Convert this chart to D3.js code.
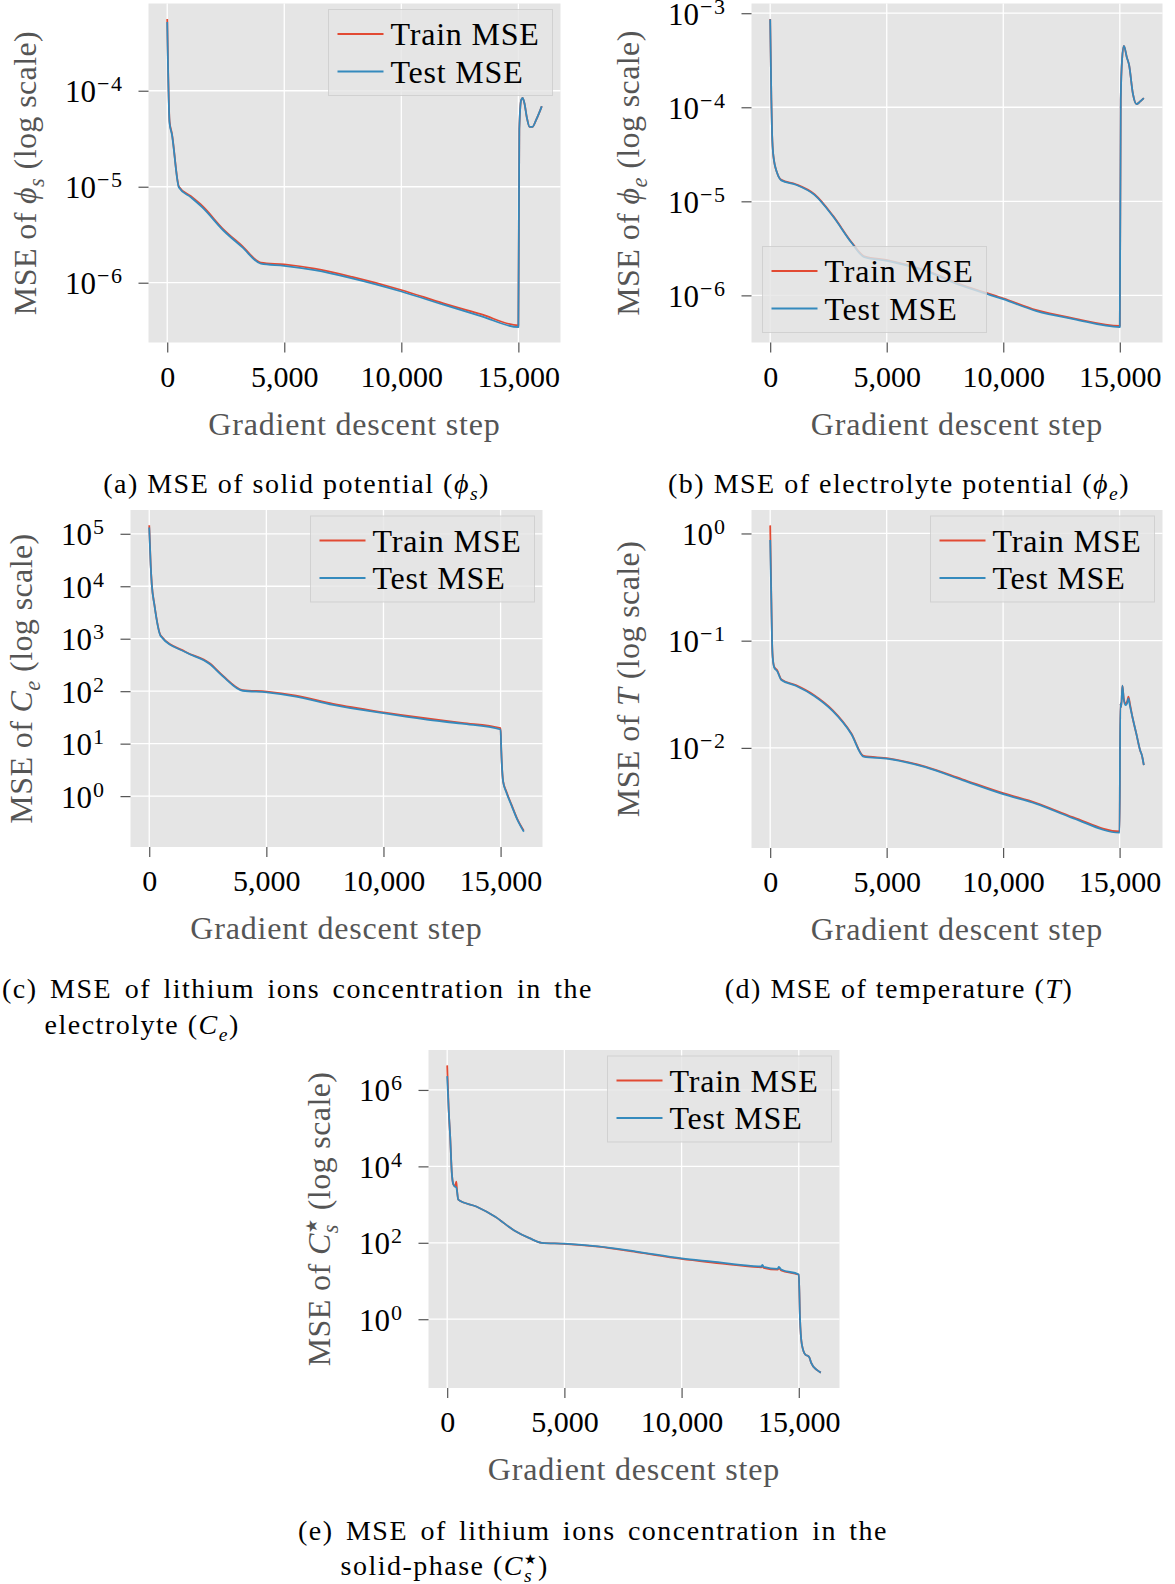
<!DOCTYPE html>
<html>
<head>
<meta charset="utf-8">
<script src="https://cdn.jsdelivr.net/npm/d3@7"></script>
<style>
  body { margin: 0; background: #fff; }
  svg { display: block; }
  svg text { font-family: "Liberation Serif", "DejaVu Serif", serif; }
</style>
</head>
<body>
<svg id="fig" width="1175" height="1584"></svg>
<script>
// ---- data ----
const seriesNames = ["Train MSE", "Test MSE"];
const seriesColors = ["#E24A33", "#348ABD"];
const xTickValues = [0, 5000, 10000, 15000];

// (a) solid potential
const phiSSteps = [0, 100, 200, 500, 1000, 1500, 2400, 3200, 4000, 5000, 6300, 7900, 10000, 11800, 13400, 15000, 15040, 15120, 15180, 15260, 15360, 15480, 15600, 15750, 15880, 16000];
const phiSTrain = [5.6e-4, 4.8e-5, 3.6e-5, 1.0e-5, 8.0e-6, 6.3e-6, 3.6e-6, 2.42e-6, 1.62e-6, 1.55e-6, 1.40e-6, 1.15e-6, 8.4e-7, 6.1e-7, 4.7e-7, 3.6e-7, 4.0e-5, 8.0e-5, 8.4e-5, 7.4e-5, 5.3e-5, 4.2e-5, 4.2e-5, 4.9e-5, 5.8e-5, 6.9e-5];
const phiSTest  = [5.2e-4, 4.6e-5, 3.5e-5, 9.8e-6, 7.8e-6, 6.1e-6, 3.5e-6, 2.35e-6, 1.58e-6, 1.50e-6, 1.35e-6, 1.11e-6, 8.1e-7, 5.9e-7, 4.5e-7, 3.45e-7, 4.0e-5, 8.0e-5, 8.4e-5, 7.4e-5, 5.3e-5, 4.2e-5, 4.2e-5, 4.9e-5, 5.8e-5, 6.9e-5];
const phiSExps  = [-4, -5, -6];

// (b) electrolyte potential
const phiESteps = [0, 50, 80, 140, 300, 480, 1100, 1900, 2700, 3500, 4040, 5070, 6660, 8250, 10000, 11430, 13020, 15000, 15040, 15100, 15175, 15300, 15400, 15560, 15715, 15870, 16030];
const phiETrain = [8.7e-4, 1.2e-4, 5.4e-5, 3.0e-5, 2.0e-5, 1.69e-5, 1.52e-5, 1.19e-5, 7.0e-6, 3.65e-6, 2.6e-6, 2.36e-6, 1.85e-6, 1.29e-6, 9.3e-7, 6.95e-7, 5.7e-7, 4.75e-7, 1.2e-4, 3.3e-4, 4.5e-4, 3.4e-4, 2.8e-4, 1.4e-4, 1.08e-4, 1.15e-4, 1.25e-4];
const phiETest  = [8.6e-4, 1.2e-4, 5.3e-5, 3.0e-5, 2.0e-5, 1.67e-5, 1.50e-5, 1.17e-5, 6.9e-6, 3.6e-6, 2.55e-6, 2.32e-6, 1.82e-6, 1.26e-6, 9.1e-7, 6.8e-7, 5.6e-7, 4.6e-7, 1.2e-4, 3.3e-4, 4.5e-4, 3.4e-4, 2.8e-4, 1.4e-4, 1.08e-4, 1.15e-4, 1.25e-4];
const phiEExps  = [-3, -4, -5, -6];

// (c) electrolyte concentration
const ceSteps = [0, 60, 110, 220, 490, 1560, 2580, 3130, 3990, 5020, 6270, 7850, 10000, 11780, 13350, 15000, 15030, 15110, 15240, 15470, 15710, 15990];
const ceTrain = [1.45e5, 2.7e4, 1.1e4, 4.5e3, 1.15e3, 560, 340, 200, 105, 98, 82, 57, 39.5, 30.5, 25, 19.8, 7.4, 1.9, 1.25, 0.68, 0.37, 0.22];
const ceTest  = [1.32e5, 2.6e4, 1.07e4, 4.4e3, 1.12e3, 550, 330, 195, 102, 95, 79, 55, 38, 29, 24, 18.6, 7.2, 1.86, 1.2, 0.66, 0.36, 0.21];
const ceExps  = [5, 4, 3, 2, 1, 0];

// (d) temperature
const tSteps = [0, 50, 80, 110, 175, 300, 480, 1100, 1890, 2690, 3480, 4010, 5070, 6660, 8250, 10000, 11430, 13020, 15000, 15030, 15070, 15120, 15180, 15260, 15320, 15380, 15440, 15560, 15720, 15880, 15960, 16040];
const tTrain = [1.19, 0.24, 0.1, 0.07, 0.057, 0.053, 0.0435, 0.0385, 0.031, 0.0224, 0.0137, 0.0084, 0.0080, 0.0067, 0.0051, 0.00378, 0.00306, 0.00225, 0.00166, 0.026, 0.024, 0.038, 0.029, 0.026, 0.027, 0.03, 0.026, 0.019, 0.0135, 0.0095, 0.0085, 0.0069];
const tTest  = [0.87, 0.23, 0.099, 0.069, 0.056, 0.052, 0.043, 0.038, 0.0305, 0.022, 0.0135, 0.0083, 0.0079, 0.0066, 0.0050, 0.0037, 0.0030, 0.0022, 0.00162, 0.026, 0.024, 0.038, 0.028, 0.025, 0.026, 0.029, 0.025, 0.019, 0.0135, 0.0095, 0.0085, 0.0069];
const tExps  = [0, -1, -2];

// (e) solid-phase concentration
const csSteps = [0, 65, 130, 195, 260, 330, 390, 420, 472, 1240, 2050, 2860, 3510, 4030, 5000, 6440, 8070, 10000, 11320, 12950, 13400, 13450, 13500, 14100, 14150, 14250, 15000, 15050, 15130, 15290, 15360, 15450, 15530, 15770, 15940];
const csTrain = [4.4e6, 3.0e5, 5.7e4, 7.2e3, 3.4e3, 3.0e3, 4.0e3, 2.4e3, 1.35e3, 890, 480, 210, 132, 100, 94, 79, 57, 38, 30.5, 23.8, 22.8, 24.5, 22.2, 19.8, 22, 19, 14.6, 1.12, 0.22, 0.117, 0.112, 0.1, 0.072, 0.047, 0.04];
const csTest  = [2.3e6, 2.95e5, 5.6e4, 7.1e3, 3.4e3, 2.95e3, 2.8e3, 2.25e3, 1.35e3, 890, 480, 210, 132, 100, 95, 81, 59, 39, 32, 25, 24, 26.3, 23.4, 20.9, 23.4, 20, 14.8, 1.12, 0.22, 0.117, 0.112, 0.1, 0.072, 0.047, 0.04];
const csExps  = [6, 4, 2, 0];

// ---- layout ----
const TICK_FONT = 31, LABEL_FONT = 32, CAP_FONT = 28;

const starPart = { t: "\u2605", s: "sup", sz: 0.5 };

const panels = [
  { steps: phiSSteps, train: phiSTrain, test: phiSTest, exps: phiSExps,
    left: 148.5, top: 3.5, width: 412, height: 339, legend: "ur",
    ylabel: [{ t: "MSE of " }, { t: "ϕ", i: 1 }, { t: "s", i: 1, s: "sub" }, { t: " (log scale)" }],
    caption: { center: 296.5, y: 493, parts: [{ t: "(a) MSE of solid potential (" }, { t: "ϕ", i: 1 }, { t: "s", i: 1, s: "sub" }, { t: ")" }] } },
  { steps: phiESteps, train: phiETrain, test: phiETest, exps: phiEExps,
    left: 751.5, top: 3.5, width: 411, height: 339, legend: "ll",
    ylabel: [{ t: "MSE of " }, { t: "ϕ", i: 1 }, { t: "e", i: 1, s: "sub" }, { t: " (log scale)" }],
    caption: { center: 899, y: 493, parts: [{ t: "(b) MSE of electrolyte potential (" }, { t: "ϕ", i: 1 }, { t: "e", i: 1, s: "sub" }, { t: ")" }] } },
  { steps: ceSteps, train: ceTrain, test: ceTest, exps: ceExps,
    left: 130.5, top: 510, width: 412, height: 337, legend: "ur",
    ylabel: [{ t: "MSE of " }, { t: "C", i: 1 }, { t: "e", i: 1, s: "sub" }, { t: " (log scale)" }],
    caption: { justify: [2, 593], y: 998, line1: "(c) MSE of lithium ions concentration in the",
               x2: 44.5, y2: 1034, parts: [{ t: "electrolyte (" }, { t: "C", i: 1 }, { t: "e", i: 1, s: "sub" }, { t: ")" }] } },
  { steps: tSteps, train: tTrain, test: tTest, exps: tExps,
    left: 751.5, top: 510, width: 411, height: 338, legend: "ur",
    ylabel: [{ t: "MSE of " }, { t: "T", i: 1 }, { t: " (log scale)" }],
    caption: { center: 899, y: 998, parts: [{ t: "(d) MSE of temperature (" }, { t: "T", i: 1 }, { t: ")" }] } },
  { steps: csSteps, train: csTrain, test: csTest, exps: csExps,
    left: 428.5, top: 1050, width: 411, height: 338, legend: "ur",
    ylabel: [{ t: "MSE of " }, { t: "C", i: 1 }, starPart, { t: "s", i: 1, s: "sub", back: 1 }, { t: " (log scale)" }],
    caption: { justify: [298, 888], y: 1540, line1: "(e) MSE of lithium ions concentration in the",
               x2: 340.5, y2: 1575, parts: [{ t: "solid-phase (" }, { t: "C", i: 1 }, starPart, { t: "s", i: 1, s: "sub", back: 1 }, { t: ")" }] } }
];

const svg = d3.select("#fig");

// text with italic letters, sub- and superscripts (a "back" part sits under the previous one)
function rich(text, parts, size) {
  let shift = 0, prev = null, carry = 0;
  parts.forEach(pt => {
    const target = pt.s === "sub" ? size * 0.24 : pt.s === "sup" ? -size * 0.4 : 0;
    const ts = text.append("tspan").text(pt.t)
      .attr("font-size", size * (pt.sz || (pt.s ? 0.7 : 1)))
      .attr("font-style", pt.i ? "italic" : null);
    if (pt.sz) ts.attr("font-family", "DejaVu Sans");
    if (target !== shift) ts.attr("dy", target - shift);
    if (pt.back && prev) {
      const pw = prev.node().getComputedTextLength();
      ts.attr("dx", -pw);
      carry = Math.max(0, pw - ts.node().getComputedTextLength());
    } else if (carry) {
      ts.attr("dx", carry);
      carry = 0;
    }
    shift = target;
    prev = ts;
  });
  return text;
}

function drawPanel(p, idx) {
  const g = svg.append("g").attr("transform", `translate(${p.left},${p.top})`);

  const xMax = d3.max(p.steps);
  const x = d3.scaleLinear()
    .domain([-xMax * 0.05, xMax * 1.05])
    .range([0, p.width]);

  const [lo, hi] = d3.extent(p.train.concat(p.test)).map(Math.log10);
  const pad = (hi - lo) * 0.05;
  const y = d3.scaleLog()
    .domain([10 ** (lo - pad), 10 ** (hi + pad)])
    .range([p.height, 0]);
  const yTicks = p.exps.map(e => 10 ** e);

  g.append("rect").attr("width", p.width).attr("height", p.height).attr("fill", "#E5E5E5");

  g.append("g").selectAll("line").data(xTickValues).join("line")
    .attr("x1", d => x(d)).attr("x2", d => x(d))
    .attr("y1", 0).attr("y2", p.height)
    .attr("stroke", "#fff").attr("stroke-width", 1.3);
  g.append("g").selectAll("line").data(yTicks).join("line")
    .attr("x1", 0).attr("x2", p.width)
    .attr("y1", d => y(d)).attr("y2", d => y(d))
    .attr("stroke", "#fff").attr("stroke-width", 1.3);

  const clipId = "clip" + idx;
  g.append("clipPath").attr("id", clipId)
    .append("rect").attr("width", p.width).attr("height", p.height);

  [p.train, p.test].forEach((vals, k) => {
    const line = d3.line()
      .curve(d3.curveMonotoneX)
      .x((d, i) => x(p.steps[i]))
      .y(d => y(d));
    g.append("path")
      .datum(vals)
      .attr("clip-path", `url(#${clipId})`)
      .attr("fill", "none")
      .attr("stroke", seriesColors[k])
      .attr("stroke-width", 1.8)
      .attr("stroke-linejoin", "round")
      .attr("d", line);
  });

  // legend
  const lw = 224, lh = 86;
  const lx = p.legend === "ur" ? p.width - 8 - lw : 11;
  const ly = p.legend === "ur" ? 6 : p.height - 10 - lh;
  const lg = g.append("g").attr("transform", `translate(${lx},${ly})`);
  lg.append("rect").attr("width", lw).attr("height", lh)
    .attr("fill", "#E5E5E5").attr("fill-opacity", 0.8)
    .attr("stroke", "#CCCCCC").attr("stroke-opacity", 0.8);
  seriesNames.forEach((name, i) => {
    const cy = 24.5 + i * 37.5;
    lg.append("line").attr("x1", 9).attr("x2", 55).attr("y1", cy).attr("y2", cy)
      .attr("stroke", seriesColors[i]).attr("stroke-width", 1.8);
    lg.append("text").attr("x", 62).attr("y", cy + 11)
      .attr("font-size", LABEL_FONT).attr("letter-spacing", 0.8).attr("fill", "#000")
      .text(name);
  });

  // x axis
  const xAxis = g.append("g")
    .attr("transform", `translate(0,${p.height})`)
    .call(d3.axisBottom(x).tickValues(xTickValues).tickSize(10).tickFormat(d3.format(",")));
  xAxis.select(".domain").remove();
  xAxis.attr("font-family", null).attr("font-size", null);
  xAxis.selectAll(".tick line").attr("stroke", "#555").attr("stroke-width", 1.2);
  xAxis.selectAll(".tick text")
    .attr("y", 44).attr("dy", null)
    .attr("font-size", 30).attr("fill", "#000");

  // y axis
  const yAxis = g.append("g")
    .call(d3.axisLeft(y).tickValues(yTicks).tickSize(10).tickFormat(() => ""));
  yAxis.select(".domain").remove();
  yAxis.attr("font-family", null).attr("font-size", null);
  yAxis.selectAll(".tick line").attr("stroke", "#555").attr("stroke-width", 1.2);
  yAxis.selectAll(".tick text")
    .attr("x", -25).attr("y", 11).attr("dy", null)
    .attr("text-anchor", "end").attr("fill", "#000")
    .each(function (d) {
      const e = Math.round(Math.log10(d));
      const t = d3.select(this);
      t.append("tspan").attr("font-size", TICK_FONT).text("10");
      t.append("tspan").attr("font-size", 22).attr("dy", -11).attr("dx", 1)
        .attr("letter-spacing", 1.5)
        .text(e < 0 ? "\u2212" + (-e) : String(e));
    });

  const tickLeft = yAxis.selectAll(".tick text").nodes()
    .map(n => n.getBBox()).reduce((m, b) => Math.min(m, b.x), 0);

  // axis labels
  g.append("text")
    .attr("x", p.width / 2).attr("y", p.height + 92)
    .attr("text-anchor", "middle").attr("fill", "#555")
    .attr("font-size", LABEL_FONT).attr("letter-spacing", 0.8)
    .text("Gradient descent step");

  const yl = g.append("text")
    .attr("transform", `translate(${tickLeft - 29},${p.height / 2}) rotate(-90)`)
    .attr("text-anchor", "middle").attr("fill", "#555")
    .attr("letter-spacing", 0.4);
  rich(yl, p.ylabel, LABEL_FONT);

  // caption
  const c = p.caption;
  if (c.justify) {
    const t1 = svg.append("text").attr("x", c.justify[0]).attr("y", c.y)
      .attr("font-size", CAP_FONT).attr("letter-spacing", 1.5).attr("fill", "#000")
      .text(c.line1);
    const spaces = c.line1.split(" ").length - 1;
    const len = t1.node().getComputedTextLength();
    t1.attr("word-spacing", (c.justify[1] - c.justify[0] - len) / spaces);
    const t2 = svg.append("text").attr("x", c.x2).attr("y", c.y2)
      .attr("letter-spacing", 1.5).attr("fill", "#000");
    rich(t2, c.parts, CAP_FONT);
  } else {
    const t = svg.append("text").attr("x", c.center).attr("y", c.y)
      .attr("text-anchor", "middle").attr("letter-spacing", 1.5).attr("fill", "#000");
    rich(t, c.parts, CAP_FONT);
  }
}

panels.forEach(drawPanel);
</script>
</body>
</html>
